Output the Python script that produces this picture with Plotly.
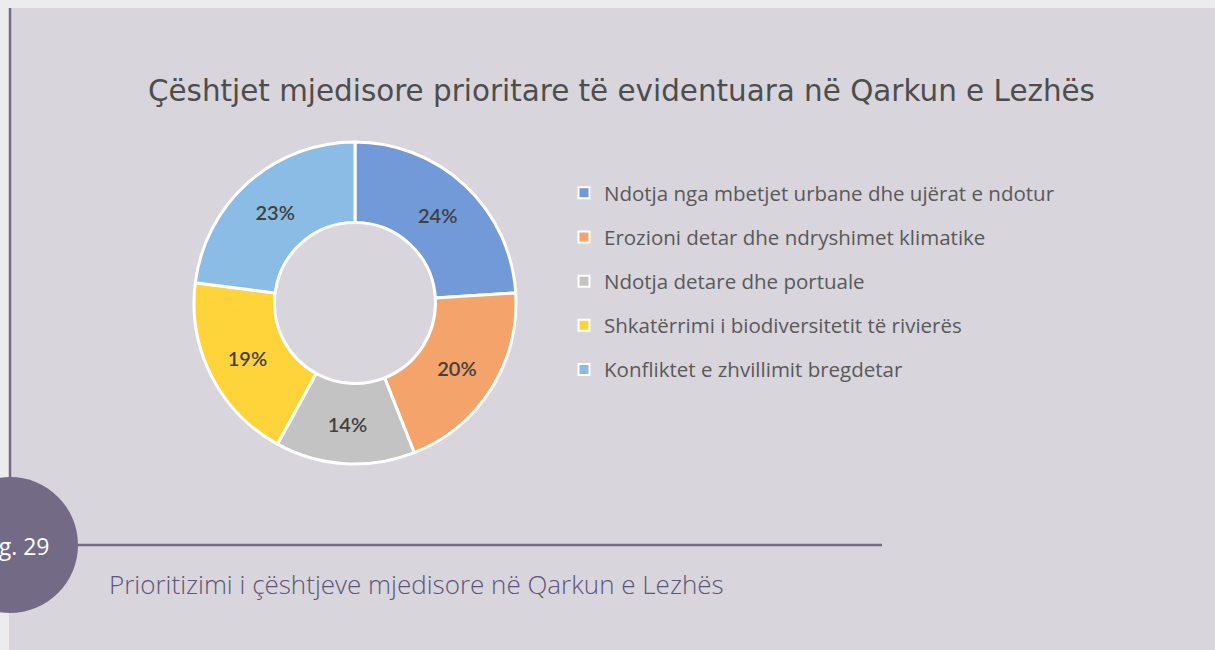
import plotly.graph_objects as go

# data
categories = [
    "Ndotja nga mbetjet urbane dhe ujërat e ndotur",
    "Erozioni detar dhe ndryshimet klimatike",
    "Ndotja detare dhe portuale",
    "Shkatërrimi i biodiversitetit të rivierës",
    "Konfliktet e zhvillimit bregdetar",
]
shares = [24, 20, 14, 19, 23]
colors = ["#7299d8", "#f4a46b", "#c3c3c3", "#ffd43a", "#8bbce6"]

W, H = 1215, 650
PANEL = "#d8d5dc"
PURPLE = "#736a86"


def px(x):
    return x / W


def py(y):
    return 1 - y / H


# donut centre and radius in pixels
cx, cy, r = 355, 303, 161

fig = go.Figure()

fig.add_trace(go.Pie(
    labels=categories,
    values=shares,
    sort=False,
    direction="clockwise",
    rotation=0,
    hole=0.5,
    marker=dict(colors=colors, line=dict(color="white", width=3)),
    texttemplate="%{value}%",
    textposition="inside",
    insidetextorientation="horizontal",
    textfont=dict(family="Lato", size=20, color="#404040", weight=600),
    domain=dict(x=[px(cx - r), px(cx + r)], y=[py(cy + r), py(cy - r)]),
    showlegend=False,
    hoverinfo="label+percent",
))

# legend entries (one per category, own group so the gap can be set)
for name, c in zip(categories, colors):
    fig.add_trace(go.Scatter(
        x=[None], y=[None], mode="markers", name=name, legendgroup=name,
        marker=dict(symbol="square", size=11, color=c, line=dict(color="white", width=2)),
    ))

shapes = [
    # panel background
    dict(type="rect", xref="paper", yref="paper", x0=px(9), x1=px(W + 5), y0=py(H + 5), y1=py(8),
         fillcolor=PANEL, line_width=0, layer="below"),
    # left vertical rule
    dict(type="line", xref="paper", yref="paper", x0=px(10), x1=px(10), y0=py(478), y1=py(8),
         line=dict(color=PURPLE, width=2.5)),
    # caption rule
    dict(type="line", xref="paper", yref="paper", x0=px(77), x1=px(882), y0=py(545), y1=py(545),
         line=dict(color=PURPLE, width=2.5)),
    # figure number badge
    dict(type="circle", xref="paper", yref="paper", x0=px(10 - 68), x1=px(10 + 68),
         y0=py(545 + 68), y1=py(545 - 68), fillcolor=PURPLE, line_width=0),
]

annotations = [
    dict(text="Çështjet mjedisore prioritare të evidentuara në Qarkun e Lezhës",
         x=px(621), y=py(91), xref="paper", yref="paper", showarrow=False,
         xanchor="center", yanchor="middle",
         font=dict(family="DejaVu Sans", size=29.4, color="#4d4d4d")),
    dict(text="Fig. 29", x=px(51), y=py(546), xref="paper", yref="paper", showarrow=False,
         xanchor="right", yanchor="middle", font=dict(family="Open Sans", size=23, color="white")),
    dict(text="Prioritizimi i çështjeve mjedisore në Qarkun e Lezhës",
         x=px(107), y=py(584), xref="paper", yref="paper", showarrow=False,
         xanchor="left", yanchor="middle",
         font=dict(family="Open Sans", size=26, color="#5d5578", weight=300)),
]

fig.update_layout(
    width=W, height=H,
    margin=dict(l=0, r=0, t=0, b=0),
    paper_bgcolor="#ececec",
    plot_bgcolor="rgba(0,0,0,0)",
    xaxis=dict(visible=False),
    yaxis=dict(visible=False),
    shapes=shapes,
    annotations=annotations,
    legend=dict(
        x=px(564), y=py(173), xanchor="left", yanchor="top",
        bgcolor="rgba(0,0,0,0)",
        font=dict(family="Open Sans", size=20.5, color="#595959"),
        tracegroupgap=14.5, itemwidth=30,
    ),
)

# page margin off so the figure sits at the window corner
fig.write_html("out.html", config={"displayModeBar": False},
               post_script="document.body.style.margin='0';")
